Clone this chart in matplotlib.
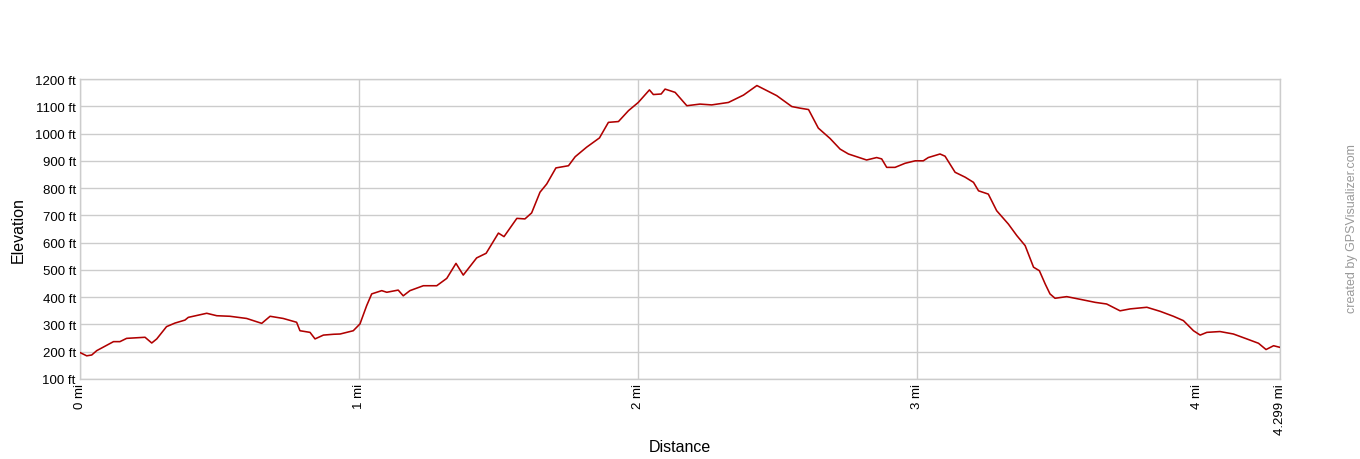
import matplotlib
matplotlib.use("Agg")
import matplotlib.pyplot as plt

# Distance (mi) and elevation (ft)
distance_mi = [0.0, 0.024, 0.042, 0.06, 0.12, 0.143, 0.167, 0.233, 0.257, 0.275,
               0.31, 0.34, 0.376, 0.388, 0.454, 0.49, 0.537, 0.597, 0.651, 0.681,
               0.728, 0.776, 0.788, 0.824, 0.842, 0.872, 0.908, 0.932, 0.979, 1.003,
               1.027, 1.045, 1.081, 1.099, 1.14, 1.158, 1.182, 1.23, 1.278, 1.314,
               1.347, 1.373, 1.421, 1.455, 1.499, 1.519, 1.565, 1.594, 1.618, 1.648,
               1.672, 1.705, 1.75, 1.774, 1.815, 1.861, 1.893, 1.929, 1.965, 2.0,
               2.04, 2.054, 2.082, 2.096, 2.132, 2.174, 2.221, 2.263, 2.323, 2.377,
               2.425, 2.496, 2.55, 2.58, 2.61, 2.645, 2.687, 2.723, 2.753, 2.818,
               2.854, 2.872, 2.89, 2.92, 2.956, 2.992, 3.021, 3.039, 3.081, 3.099,
               3.135, 3.171, 3.201, 3.219, 3.254, 3.284, 3.326, 3.356, 3.386, 3.416,
               3.437, 3.458, 3.475, 3.493, 3.535, 3.589, 3.637, 3.678, 3.726, 3.762,
               3.822, 3.87, 3.917, 3.953, 3.989, 4.013, 4.037, 4.084, 4.132, 4.18,
               4.222, 4.249, 4.276, 4.299]
elevation_ft = [197, 185, 188, 204, 237, 237, 249, 253, 232, 247,
                292, 305, 316, 326, 341, 332, 330, 322, 304, 330,
                322, 308, 277, 271, 247, 261, 264, 265, 277, 302,
                369, 412, 424, 418, 426, 405, 424, 442, 442, 469,
                524, 481, 544, 561, 635, 622, 689, 687, 709, 785,
                815, 874, 882, 915, 950, 984, 1041, 1044, 1084, 1114,
                1160, 1143, 1145, 1163, 1151, 1102, 1108, 1105, 1114, 1141,
                1176, 1139, 1099, 1093, 1088, 1020, 982, 943, 925, 903,
                912, 907, 876, 876, 891, 900, 900, 912, 925, 917,
                858, 840, 821, 790, 778, 717, 668, 626, 589, 510,
                497, 448, 412, 396, 402, 391, 381, 375, 350, 357,
                363, 348, 330, 314, 277, 261, 271, 274, 265, 247,
                231, 208, 222, 216]

x_ticks = [0, 1, 2, 3, 4, 4.299]
x_labels = ["0 mi", "1 mi", "2 mi", "3 mi", "4 mi", "4.299 mi"]
y_ticks = [100, 200, 300, 400, 500, 600, 700, 800, 900, 1000, 1100, 1200]
y_labels = [f"{v} ft" for v in y_ticks]

plt.rcParams['font.family'] = ['Liberation Sans', 'DejaVu Sans']

fig = plt.figure(figsize=(13.6, 4.6), dpi=100)
ax = fig.add_axes([80/1360, 1-380/460, 1200/1360, 300/460])

ax.plot(distance_mi, elevation_ft, color="#b00000", linewidth=1.15, zorder=3)

ax.set_xlim(0, 4.299)
ax.set_ylim(100, 1200)
ax.set_xticks(x_ticks)
ax.set_xticklabels(x_labels, rotation=90, fontsize=9.5)
ax.set_yticks(y_ticks)
ax.set_yticklabels(y_labels, fontsize=9.5)
ax.tick_params(length=0, pad=3)
ax.grid(True, color="#cccccc", linewidth=1)
for s in ax.spines.values():
    s.set_color("#cccccc")
    s.set_linewidth(1)

fig.text(680/1360, 1-448/460, "Distance", fontsize=11.5, ha="center", va="center")
fig.text(18/1360, 1-230/460, "Elevation", fontsize=11.5, rotation=90,
         ha="center", va="center")
fig.text(1352/1360, 1-229/460, "created by GPSVisualizer.com", rotation=90,
         fontsize=9, color="#999999", ha="center", va="center")

fig.savefig("out.png", dpi=100)
